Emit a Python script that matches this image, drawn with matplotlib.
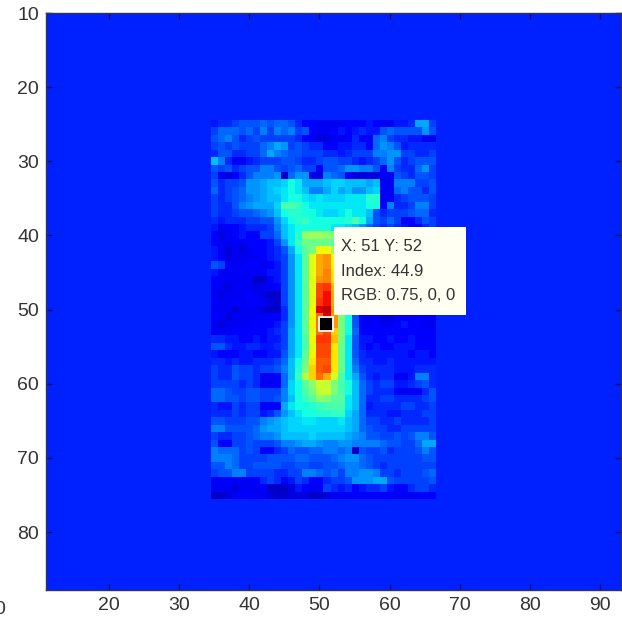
import numpy as np
import matplotlib
matplotlib.use('Agg')
import matplotlib.pyplot as plt
from matplotlib.patches import Rectangle

plt.rcParams['font.family'] = ['Liberation Sans', 'DejaVu Sans']

W, H = 622, 624

# valores, linhas y=25..75, colunas x=35..66
col_x = np.arange(35, 67)
row_y = np.arange(25, 76)
fundo = 7.5
indice = np.array([
    [7,8,8,9,10,10,10,11,10,11,11,10,8,6,6,5,5,5,5,6,6,6,7,6,5,5,7,7,8,14,14,9],
    [9,11,11,11,10,11,9,12,9,12,11,12,9,10,6,5,5,6,7,6,7,8,7,7,10,11,10,10,10,10,13,10],
    [10,11,12,10,8,9,10,9,9,9,9,9,8,6,5,4,4,5,5,6,8,6,6,11,12,9,8,8,7,7,5,5],
    [9,10,9,10,9,9,9,11,12,14,13,9,10,9,8,8,6,6,7,7,8,8,6,11,13,12,10,7,8,8,8,8],
    [8,10,10,8,8,9,9,11,14,12,11,10,10,9,9,9,8,8,7,8,9,9,9,12,12,13,13,9,9,8,8,9],
    [15,12,8,6,5,7,8,9,9,9,10,10,9,8,8,9,10,10,9,9,8,7,8,9,11,13,10,8,9,10,10,10],
    [10,9,10,8,9,10,10,12,12,10,9,10,11,9,9,5,10,10,11,13,13,12,12,10,6,12,9,8,8,11,13,9],
    [9,5,4,6,8,10,12,12,12,13,3,11,13,13,5,4,12,11,10,5,4,4,4,4,5,5,10,9,8,10,10,9],
    [10,8,9,9,10,13,13,14,15,15,16,18,17,14,14,14,15,16,16,15,15,15,14,15,5,5,12,12,12,9,9,10],
    [11,8,9,10,11,13,13,14,15,16,17,18,17,15,12,12,14,16,14,15,13,13,15,16,5,5,11,12,10,10,8,10],
    [9,8,9,10,11,12,13,14,15,15,17,18,18,17,16,17,16,16,16,17,17,17,19,19,5,5,8,9,10,10,10,9],
    [9,8,8,10,12,13,14,14,14,16,21,21,20,18,17,17,17,17,17,17,17,17,18,18,6,12,8,8,9,12,12,9],
    [9,8,8,9,10,10,11,12,13,15,18,19,19,18,18,17,16,16,17,18,17,17,15,10,8,9,9,9,10,11,11,8],
    [8,7,8,8,8,9,9,10,10,13,16,18,19,20,18,18,18,18,18,19,21,18,14,10,9,11,9,6,6,8,10,9],
    [7,5,6,6,7,8,8,8,9,12,15,17,18,18,18,18,18,17,17,16,15,13,11,9,8,9,8,7,6,6,8,9],
    [6,4,5,6,7,6,6,9,9,11,15,17,19,25,26,26,25,24,20,16,12,10,9,8,8,8,8,8,8,8,8,8],
    [6,5,5,5,5,6,6,6,7,9,13,17,20,23,23,23,23,22,19,16,12,10,9,8,8,8,8,8,8,8,8,8],
    [7,5,4,5,4,5,6,6,7,8,10,14,18,22,24,31,31,26,20,16,12,9,8,8,8,8,8,8,8,8,8,8],
    [7,6,4,5,5,5,5,6,7,8,9,13,17,22,30,35,36,31,22,17,12,9,8,8,8,8,8,8,8,8,8,8],
    [10,9,6,5,5,6,6,5,6,7,9,13,17,22,30,35,36,31,22,17,11,9,8,8,8,8,8,8,8,8,8,8],
    [7,5,5,5,6,5,5,6,7,7,9,13,17,22,30,35,37,32,22,17,11,8,8,8,8,8,8,8,8,8,8,8],
    [6,5,5,5,5,5,3,3,6,7,9,13,17,22,30,36,37,32,22,17,11,8,8,8,8,8,8,8,8,8,8,8],
    [6,5,4,5,5,5,4,5,5,6,9,13,17,22,30,40,41,34,23,17,11,8,8,8,8,8,8,8,8,8,8,8],
    [5,4,5,5,5,6,5,4,3,3,9,13,17,22,30,40,43,35,24,17,11,8,8,8,8,8,8,8,8,8,8,8],
    [6,5,5,6,5,6,6,5,4,3,9,13,17,22,30,41,43,35,24,17,11,8,8,8,8,8,8,8,8,8,8,8],
    [5,5,5,4,5,5,5,4,3,3,8,13,17,22,31,44,45,36,24,18,10,6,5,5,5,5,5,5,5,5,6,6],
    [6,5,4,5,5,5,5,5,6,6,8,13,17,22,31,38,44,36,24,18,10,5,5,5,4,4,5,5,5,6,6,6],
    [5,4,5,5,5,5,6,6,6,7,9,13,17,22,31,38,44.9,36,24,18,10,5,5,6,5,5,6,7,6,6,5,5],
    [5,5,5,6,6,6,6,6,7,8,9,14,17,22,30,38,40,33,24,18,11,6,6,6,6,6,6,6,6,6,6,6],
    [8,8,7,7,6,6,7,6,7,7,9,14,17,21,31,41,41,34,24,17,10,7,7,6,6,7,6,6,7,6,6,6],
    [10,10,8,7,7,8,8,7,7,8,9,14,17,21,30,40,40,32,23,17,10,7,6,7,6,6,7,7,7,6,6,6],
    [7,6,6,6,7,7,6,6,7,7,10,14,17,22,31,40,40,32,23,17,10,8,7,7,7,7,7,7,6,7,7,6],
    [8,8,7,8,7,7,8,8,8,9,11,15,18,23,32,39,39,32,23,17,11,8,8,7,7,8,7,7,7,7,7,7],
    [9,8,8,10,9,9,8,9,9,10,12,15,19,24,33,39,40,32,23,17,12,9,8,8,8,8,7,7,7,8,8,8],
    [9,8,8,10,9,9,8,5,5,6,11,15,20,27,33,38,35,29,21,17,14,10,8,7,8,8,5,5,7,12,12,8],
    [9,9,9,9,8,9,8,5,5,6,11,16,18,22,25,29,28,24,21,18,15,11,9,8,9,9,7,7,8,9,10,8],
    [11,11,10,9,9,10,10,9,9,9,12,16,18,21,24,28,29,24,21,18,15,11,9,8,8,8,6,5,5,6,8,10],
    [11,11,10,10,9,10,10,9,9,10,12,15,18,20,22,25,24,22,22,17,15,11,8,8,9,9,8,8,8,8,9,10],
    [8,7,7,9,8,9,9,6,6,6,14,17,18,18,19,20,21,21,21,17,15,11,7,8,8,8,8,9,9,8,8,9],
    [8,8,8,9,8,9,9,7,8,10,13,15,17,18,18,19,19,20,20,16,14,11,8,8,8,7,7,8,8,8,9,9],
    [10,10,9,9,9,10,10,12,13,14,15,16,16,17,17,16,16,16,17,15,14,11,9,9,8,8,9,8,8,8,8,9],
    [12,12,10,10,10,10,11,13,14,14,15,16,16,16,16,16,16,16,16,15,14,11,10,9,9,8,8,9,9,9,9,9],
    [9,8,8,9,9,10,11,12,12,13,15,15,15,15,16,15,15,15,15,14,13,12,10,10,9,9,10,9,10,12,12,10],
    [10,6,6,9,9,10,9,9,9,10,12,12,13,14,14,13,12,12,13,13,12,12,12,12,11,10,10,9,9,11,14,14],
    [12,11,11,11,9,10,9,6,6,8,9,11,10,10,11,11,12,12,11,12,3,10,9,9,10,8,9,9,9,10,12,10],
    [12,12,12,11,9,9,9,9,10,10,10,10,11,11,10,10,10,11,12,13,13,11,10,9,9,9,9,9,9,9,10,10],
    [10,10,12,11,9,9,10,10,10,10,9,9,10,10,9,9,10,10,11,12,12,11,10,9,8,9,9,9,9,9,9,9],
    [9,10,10,12,12,9,9,9,9,8,8,9,9,12,12,11,10,11,9,12,12,13,13,12,9,9,8,9,9,9,10,11],
    [5,5,6,5,5,5,6,8,9,8,6,7,9,8,6,6,8,9,9,10,13,13,13,14,14,10,9,9,9,9,9,10],
    [5,5,5,4,5,5,5,6,3,3,3,4,7,6,5,5,9,8,7,8,6,7,8,8,9,7,6,6,8,9,9,8],
    [3,3,4,6,6,6,5,5,4,3,3,4,4,4,3,3,4,5,5,5,6,6,6,6,6,6,5,5,5,6,6,6],
], dtype=float)

ticks_x = np.arange(20, 100, 10)
ticks_y = np.arange(10, 90, 10)

fig = plt.figure(figsize=(W / 100, H / 100), dpi=100)
ax = fig.add_axes([46 / W, 1 - 590 / H, 575 / W, 577 / H])

cor_fundo = plt.get_cmap('jet')(fundo / 48)
ax.set_facecolor(cor_fundo)
ax.imshow(indice, cmap='jet', vmin=0, vmax=48, interpolation='nearest', aspect='auto',
          extent=[col_x[0] - 0.5, col_x[-1] + 0.5, row_y[-1] + 0.5, row_y[0] - 0.5])
ax.set_xlim(11, 93)
ax.set_ylim(87.8, 10)
ax.set_xticks(ticks_x)
ax.set_yticks(ticks_y)
ax.tick_params(direction='in', length=4, width=1, top=True, right=True, color='#10105a',
               labelsize=14, labelcolor='#333333', pad=5)
for lado in ax.spines.values():
    lado.set_linewidth(1)
    lado.set_color('#333355')

# marcador do data cursor
ax.plot([51], [52], 's', color='black', ms=9.5, mec='white', mew=1.3, zorder=5)

# caixa do data cursor
fig.add_artist(Rectangle((334 / W, 1 - 315 / H), 132 / W, 88 / H, transform=fig.transFigure,
                         facecolor='#fffff2', edgecolor='none', zorder=6))
for texto, py in zip(['X: 51 Y: 52', 'Index: 44.9', 'RGB: 0.75, 0, 0'], [247, 271, 295]):
    fig.text(341 / W, 1 - py / H, texto, fontsize=12, color='#333333', va='center', zorder=7)

# pedaco de rotulo cortado no canto inferior esquerdo
fig.text(5 / W, 1 - 610 / H, '0', fontsize=14, color='#333333', ha='right', va='center')

fig.savefig('out.png', dpi=100)
